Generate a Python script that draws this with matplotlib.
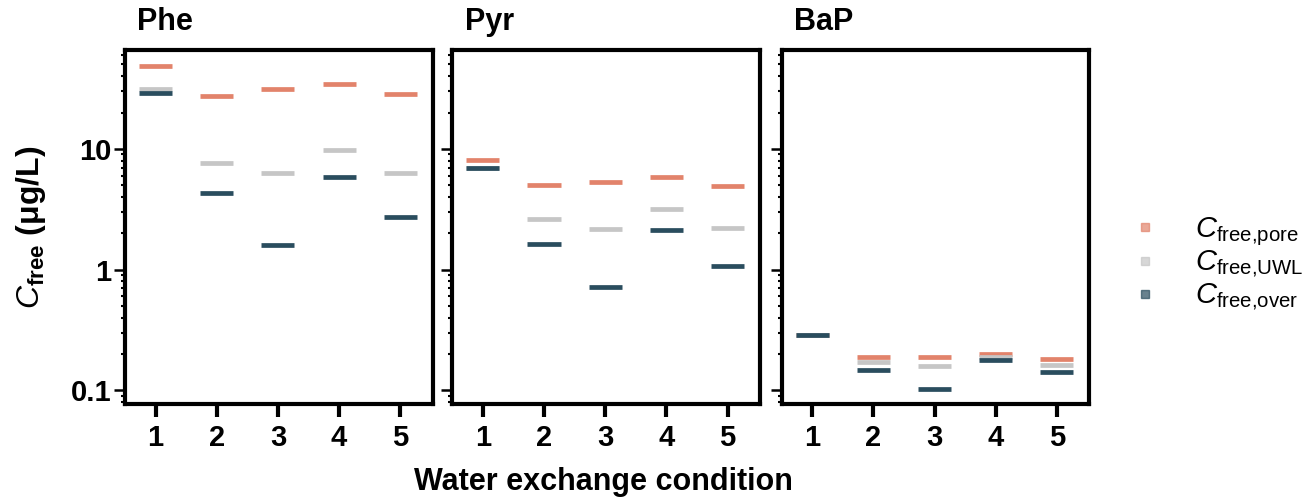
import numpy as np
import matplotlib
matplotlib.use("Agg")
import matplotlib.pyplot as plt
from matplotlib.lines import Line2D
from matplotlib.ticker import LogLocator, NullFormatter

plt.rcParams["font.family"] = ["Liberation Sans", "DejaVu Sans"]
plt.rcParams["mathtext.fontset"] = "custom"
plt.rcParams["mathtext.rm"] = "Liberation Sans"
plt.rcParams["mathtext.it"] = "Liberation Sans:italic"
plt.rcParams["mathtext.bf"] = "Liberation Sans:bold"

conditions = [1, 2, 3, 4, 5]
compounds = ["Phe", "Pyr", "BaP"]

# free concentrations (ug/L) per compound, water exchange conditions 1-5
phe_pore = [49.0, 27.4, 31.6, 34.5, 28.5]
phe_uwl = [31.6, 7.6, 6.3, 9.8, 6.3]
phe_over = [29.3, 4.3, 1.61, 5.9, 2.75]

pyr_pore = [8.1, 5.0, 5.37, 5.9, 4.95]
pyr_uwl = [7.0, 2.65, 2.19, 3.19, 2.23]
pyr_over = [6.9, 1.64, 0.72, 2.13, 1.08]

bap_pore = [0.29, 0.19, 0.189, 0.202, 0.181]
bap_uwl = [0.29, 0.171, 0.158, 0.19, 0.161]
bap_over = [0.29, 0.149, 0.1035, 0.18, 0.142]

data = {
    "Phe": (phe_pore, phe_uwl, phe_over),
    "Pyr": (pyr_pore, pyr_uwl, pyr_over),
    "BaP": (bap_pore, bap_uwl, bap_over),
}

colors = ["#E2836B", "#C6C6C6", "#2A4D5E"]
series_labels = [r"$C_{\mathrm{free{,}pore}}$", r"$C_{\mathrm{free{,}UWL}}$",
                 r"$C_{\mathrm{free{,}over}}$"]

fig = plt.figure(figsize=(13.07, 4.99), dpi=100)
lefts = [0.0956, 0.346, 0.598]
width = 0.2355
bottom, top = 0.190, 0.900

x = np.array(conditions)
for i, name in enumerate(compounds):
    ax = fig.add_axes([lefts[i], bottom, width, top - bottom])
    for vals, c in zip(data[name], colors):
        ax.hlines(vals, x - 0.27, x + 0.27, colors=c, lw=3.4, capstyle="butt")
    ax.set_yscale("log")
    ax.set_ylim(0.077, 66)
    ax.set_xlim(0.5, 5.53)
    ax.set_xticks(conditions)
    ax.yaxis.set_minor_locator(LogLocator(base=10, subs=np.arange(2, 10), numticks=10))
    ax.yaxis.set_minor_formatter(NullFormatter())
    ax.set_yticks([0.1, 1, 10])
    if i == 0:
        ax.set_yticklabels(["0.1", "1", "10"])
    else:
        ax.set_yticklabels([])
    for s in ax.spines.values():
        s.set_linewidth(3)
    ax.tick_params(axis="x", length=9, width=3, labelsize=21, pad=5)
    ax.tick_params(axis="y", which="major", length=8, width=1.8, labelsize=21, pad=2)
    ax.tick_params(axis="y", which="minor", length=3, width=1.5)
    for lab in ax.get_xticklabels() + ax.get_yticklabels():
        lab.set_fontweight("bold")
    ax.text(0.04, 1.035, name, transform=ax.transAxes, fontsize=22,
            fontweight="bold", ha="left", va="bottom")
    if i == 0:
        ax.set_ylabel(r"$C_{\mathbf{free}}$ (μg/L)", fontsize=23,
                      fontweight="bold", labelpad=16)

fig.text(603 / 1307, 0.035, "Water exchange condition", ha="center",
         va="center", fontsize=22, fontweight="bold")

handles = [Line2D([], [], ls="", marker="s", ms=6, color=c, alpha=0.7) for c in colors]
fig.legend(handles, series_labels, loc="center left", bbox_to_anchor=(0.834, 0.471),
           frameon=False, fontsize=21, handletextpad=0.7, labelspacing=0.05)

fig.savefig("out.png", dpi=100)
